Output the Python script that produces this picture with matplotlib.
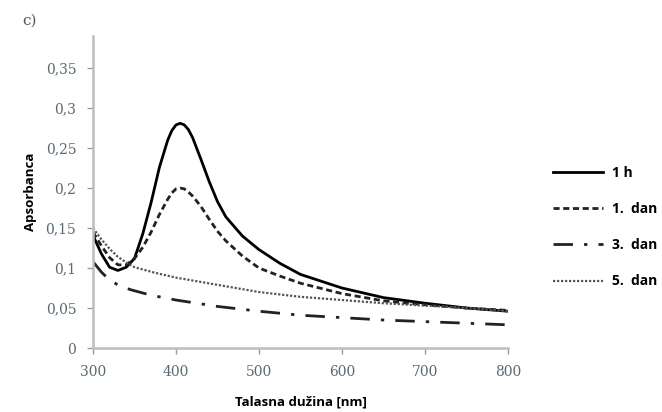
import matplotlib.pyplot as plt
import numpy as np

# data (wavelength in nm, absorbance)

x_1h = [300, 310, 320, 330, 340, 350, 360, 370, 380, 390, 395, 400, 405, 410,
        415, 420, 430, 440, 450, 460, 480, 500, 525, 550, 600, 650, 700, 750, 800]
y_1h = [0.141, 0.118, 0.101, 0.097, 0.101, 0.112, 0.143, 0.182, 0.226, 0.260,
        0.272, 0.279, 0.281, 0.279, 0.273, 0.263, 0.236, 0.208, 0.183, 0.164,
        0.140, 0.123, 0.106, 0.092, 0.075, 0.063, 0.056, 0.050, 0.046]

x_1d = [300, 310, 320, 330, 340, 350, 360, 370, 380, 390, 395, 400, 405, 410,
        415, 420, 430, 440, 450, 460, 480, 500, 525, 550, 600, 650, 700, 750, 800]
y_1d = [0.145, 0.128, 0.113, 0.104, 0.104, 0.112, 0.126, 0.145, 0.167, 0.186,
        0.194, 0.199, 0.200, 0.199, 0.195, 0.190, 0.177, 0.161, 0.146, 0.134,
        0.115, 0.100, 0.090, 0.081, 0.068, 0.059, 0.054, 0.050, 0.047]

x_3d = [300, 310, 320, 330, 345, 370, 400, 450, 500, 550, 600, 650, 700, 750, 800]
y_3d = [0.108, 0.095, 0.085, 0.079, 0.073, 0.066, 0.060, 0.052, 0.046, 0.041,
        0.038, 0.035, 0.033, 0.031, 0.029]

x_5d = [300, 310, 320, 330, 340, 350, 375, 400, 450, 500, 550, 600, 650, 700, 750, 800]
y_5d = [0.150, 0.136, 0.124, 0.114, 0.107, 0.101, 0.094, 0.088, 0.079, 0.070,
        0.064, 0.060, 0.056, 0.053, 0.050, 0.046]

y_ticks = [0, 0.05, 0.1, 0.15, 0.2, 0.25, 0.3, 0.35]
y_ticklabels = ['0', '0,05', '0,1', '0,15', '0,2', '0,25', '0,3', '0,35']
x_ticks = [300, 400, 500, 600, 700, 800]

# Plot

fig = plt.figure(figsize=(6.62, 4.12), dpi=100)
ax = fig.add_axes([0.1405, 0.1553, 0.627, 0.757])

l1, = ax.plot(x_1h, y_1h, color='black', lw=2.0, ls='-')
l2, = ax.plot(x_1d, y_1d, color='#222222', lw=2.0, ls=(0, (2.2, 1.3)))
l3, = ax.plot(x_3d, y_3d, color='#222222', lw=2.0, ls=(0, (7, 4, 1.2, 4)))
l4, = ax.plot(x_5d, y_5d, color='#555555', lw=1.6, ls=(0, (1, 0.8)))

ax.set_xlim(300, 800)
ax.set_ylim(0, 0.39)
ax.set_xticks(x_ticks)
ax.set_yticks(y_ticks)
ax.set_yticklabels(y_ticklabels)

for side in ['top', 'right']:
    ax.spines[side].set_visible(False)
for side in ['left', 'bottom']:
    ax.spines[side].set_color('#bdbdbd')
    ax.spines[side].set_linewidth(1.8)

ax.tick_params(direction='out', length=4, width=1, color='#9a9a9a',
               labelcolor='#5a6a70', labelsize=10, pad=8)
for lab in ax.get_xticklabels() + ax.get_yticklabels():
    lab.set_family('DejaVu Serif')

ax.set_xlabel('Talasna dužina [nm]', fontsize=9.5, fontweight='bold',
              family='Open Sans', labelpad=12)
ax.set_ylabel('Apsorbanca', fontsize=9.5, fontweight='bold',
              family='Open Sans', labelpad=6)

fig.text(0.033, 0.94, 'c)', fontsize=11, color='#555555', family='DejaVu Serif')

# Legend

fig.legend([l1, l2, l3, l4], ['1 h', '1.  dan', '3.  dan', '5.  dan'],
           loc='upper left', bbox_to_anchor=(0.816, 0.628), frameon=False,
           handlelength=3.6, labelspacing=1.6, handletextpad=0.7,
           prop={'family': 'Open Sans', 'weight': 'bold', 'size': 10})

fig.savefig('out.png', dpi=100)
